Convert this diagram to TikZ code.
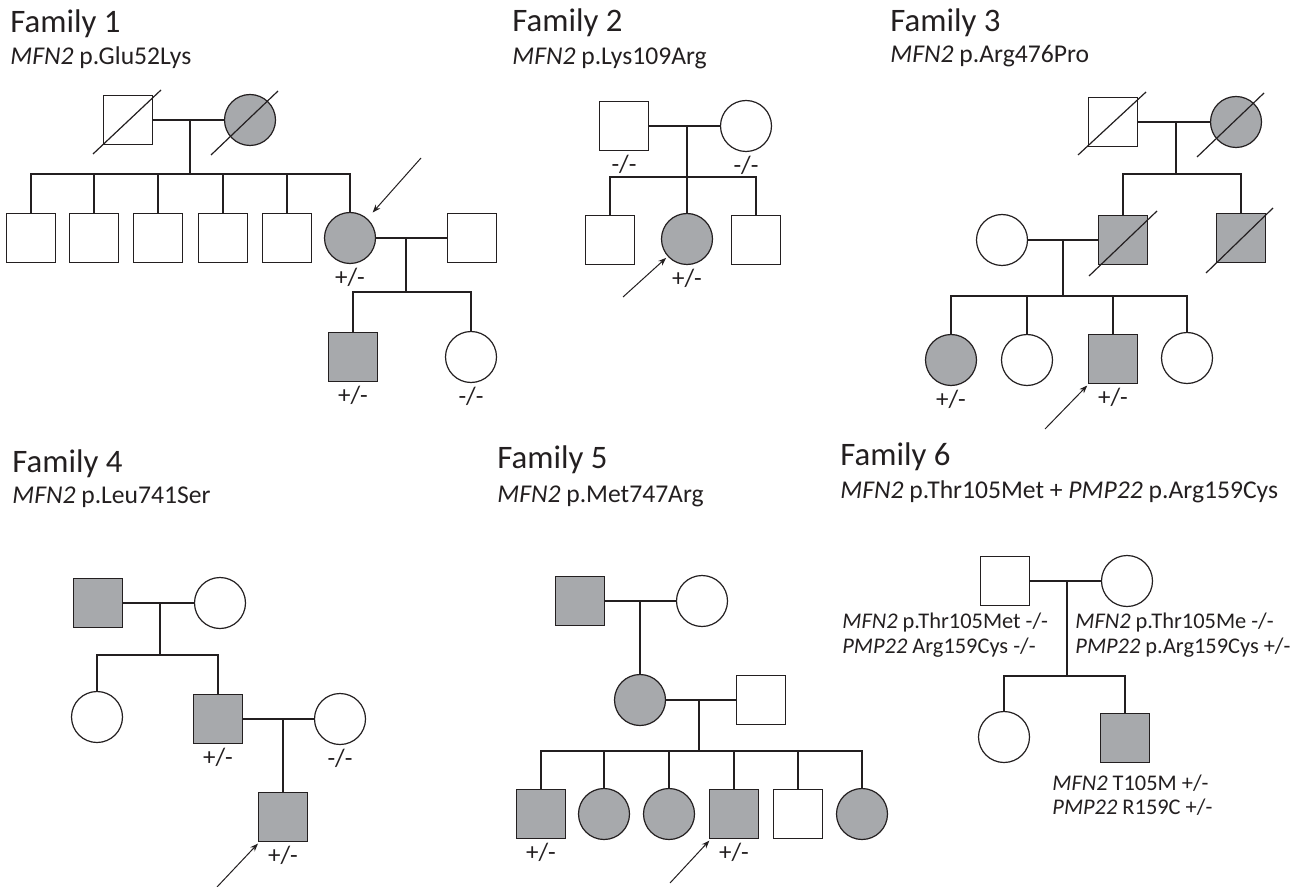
\documentclass[tikz,border=0pt]{standalone}
\usepackage{fontspec}
\setmainfont{Carlito}
\usetikzlibrary{arrows.meta,positioning}
\definecolor{ink}{HTML}{231F20}
\definecolor{shade}{HTML}{A7A9AC}
\tikzset{
  male/.style={
    rectangle, draw=ink, fill=white, line width=0.6pt,
    minimum size=24.5pt, inner sep=0pt
  },
  female/.style={
    circle, draw=ink, fill=white, line width=0.6pt,
    minimum size=25.5pt, inner sep=0pt
  },
  aff/.style={fill=shade},
  kin/.style={draw=ink, line width=0.6pt},
  dead/.style={draw=ink, line width=0.6pt},
  proband/.style={-{Stealth[length=4pt,width=3pt]}, draw=ink, line width=0.5pt},
  geno/.style={font=\fontsize{12.5}{14}\selectfont, text=ink, inner sep=0pt},
  famtitle/.style={font=\fontsize{16.4}{19}\selectfont, text=ink, anchor=base west, inner sep=0pt},
  variant/.style={font=\fontsize{12.8}{15}\selectfont, text=ink, anchor=base west, inner sep=0pt},
  note/.style={font=\fontsize{11.2}{13}\selectfont, text=ink, anchor=base west, inner sep=0pt}
}

\begin{document}
\begin{tikzpicture}[x=0.5pt, y=-0.5pt]
  \useasboundingbox (0,0) rectangle (1299,887);

  % Family 1
  \node[famtitle] (t1) at (10,33) {Family 1};
  \node[variant] (v1) at (10,65) {\textit{MFN2} p.Glu52Lys};
  \node[male] (f1a) at (128,120) {};
  \node[female, aff] (f1b) at (250,120) {};
  \draw[dead] ([shift={(-35,34)}]f1a.center) -- ([shift={(33,-30)}]f1a.center);
  \draw[dead] ([shift={(-39,35)}]f1b.center) -- ([shift={(28,-29)}]f1b.center);
  \draw[kin] (f1a) -- (f1b);
  \coordinate (m1) at (190,120);
  \coordinate (j1) at (190,174);
  \draw[kin] (m1) -- (j1);
  \node[male] (f1c1) at (31,238) {};
  \node[male] (f1c2) at (94,238) {};
  \node[male] (f1c3) at (158,238) {};
  \node[male] (f1c4) at (223,238) {};
  \node[male] (f1c5) at (287,238) {};
  \node[female, aff] (f1c6) at (350,238) {};
  \foreach \c in {f1c1,f1c2,f1c3,f1c4,f1c5,f1c6}
    \draw[kin] (\c.north) |- (j1);
  \node[geno, below=2pt of f1c6] (g1a) {+/-};
  \node[male] (f1d) at (472,238) {};
  \draw[kin] (f1c6) -- (f1d);
  \coordinate (m1b) at (406,238);
  \coordinate (j1b) at (406,292);
  \draw[kin] (m1b) -- (j1b);
  \node[male, aff] (f1e1) at (353,357) {};
  \node[female] (f1e2) at (471,357) {};
  \draw[kin] (f1e1.north) |- (j1b);
  \draw[kin] (f1e2.north) |- (j1b);
  \node[geno, below=2pt of f1e1] (g1b) {+/-};
  \node[geno, below=2pt of f1e2] (g1c) {-/-};
  \coordinate (p1) at (421,158);
  \draw[proband, shorten >=4pt] (p1) -- (f1c6);

  % Family 2
  \node[famtitle] (t2) at (512,32) {Family 2};
  \node[variant] (v2) at (512,65) {\textit{MFN2} p.Lys109Arg};
  \node[male] (f2a) at (624,126) {};
  \node[female] (f2b) at (746,126) {};
  \draw[kin] (f2a) -- (f2b);
  \node[geno, below=2pt of f2a] (g2a) {-/-};
  \node[geno, below=2pt of f2b] (g2b) {-/-};
  \coordinate (m2) at (687,126);
  \coordinate (j2) at (687,177);
  \node[male] (f2c1) at (610,240) {};
  \node[female, aff] (f2c2) at (687,239) {};
  \node[male] (f2c3) at (756,240) {};
  \draw[kin] (m2) -- (f2c2);
  \draw[kin] (f2c1.north) |- (j2);
  \draw[kin] (f2c3.north) |- (j2);
  \node[geno, below=2pt of f2c2] (g2c) {+/-};
  \coordinate (p2) at (623,297);
  \draw[proband, shorten >=1pt] (p2) -- (f2c2);

  % Family 3
  \node[famtitle] (t3) at (890,32) {Family 3};
  \node[variant] (v3) at (890,63) {\textit{MFN2} p.Arg476Pro};
  \node[male] (f3a) at (1113,122) {};
  \node[female, aff] (f3b) at (1236,122) {};
  \draw[dead] ([shift={(-35,33)}]f3a.center) -- ([shift={(33,-30)}]f3a.center);
  \draw[dead] ([shift={(-39,35)}]f3b.center) -- ([shift={(28,-29)}]f3b.center);
  \draw[kin] (f3a) -- (f3b);
  \coordinate (m3) at (1176,122);
  \coordinate (j3) at (1176,174);
  \draw[kin] (m3) -- (j3);
  \node[male, aff] (f3c1) at (1123,240) {};
  \node[male, aff] (f3c2) at (1241,238) {};
  \draw[dead] ([shift={(-34,36)}]f3c1.center) -- ([shift={(34,-29)}]f3c1.center);
  \draw[dead] ([shift={(-35,35)}]f3c2.center) -- ([shift={(32,-30)}]f3c2.center);
  \draw[kin] (f3c1.north) |- (j3);
  \draw[kin] (f3c2.north) |- (j3);
  \node[female] (f3w) at (1002,240) {};
  \draw[kin] (f3w) -- (f3c1);
  \coordinate (m3b) at (1063,240);
  \coordinate (j3b) at (1063,296);
  \draw[kin] (m3b) -- (j3b);
  \node[female, aff] (f3d1) at (951,360) {};
  \node[female] (f3d2) at (1027,360) {};
  \node[male, aff] (f3d3) at (1113,359) {};
  \node[female] (f3d4) at (1187,358) {};
  \foreach \c in {f3d1,f3d2,f3d3,f3d4}
    \draw[kin] (\c.north) |- (j3b);
  \node[geno, below=2pt of f3d1] (g3a) {+/-};
  \node[geno, below=2pt of f3d3] (g3b) {+/-};
  \coordinate (p3) at (1045,429);
  \draw[proband, shorten >=1pt] (p3) -- (f3d3);

  % Family 4
  \node[famtitle] (t4) at (12,472) {Family 4};
  \node[variant] (v4) at (12,503) {\textit{MFN2} p.Leu741Ser};
  \node[male, aff] (f4a) at (98,603) {};
  \node[female] (f4b) at (220,603) {};
  \draw[kin] (f4a) -- (f4b);
  \coordinate (m4) at (160,603);
  \coordinate (j4) at (160,655);
  \draw[kin] (m4) -- (j4);
  \node[female] (f4c1) at (97,717) {};
  \node[male, aff] (f4c2) at (218,719) {};
  \draw[kin] (f4c1.north) |- (j4);
  \draw[kin] (f4c2.north) |- (j4);
  \node[geno, below=2pt of f4c2] (g4a) {+/-};
  \node[female] (f4w) at (340,719) {};
  \draw[kin] (f4c2) -- (f4w);
  \node[geno, below=2pt of f4w] (g4b) {-/-};
  \coordinate (m4b) at (283,719);
  \node[male, aff] (f4d) at (283,817) {};
  \draw[kin] (m4b) -- (f4d);
  \node[geno, below=2pt of f4d] (g4c) {+/-};
  \coordinate (p4) at (217,887);
  \draw[proband, shorten >=1pt] (p4) -- (f4d);

  % Family 5
  \node[famtitle] (t5) at (497,468) {Family 5};
  \node[variant] (v5) at (497,502) {\textit{MFN2} p.Met747Arg};
  \node[male, aff] (f5a) at (580,601) {};
  \node[female] (f5b) at (702,601) {};
  \draw[kin] (f5a) -- (f5b);
  \coordinate (m5) at (640,601);
  \node[female, aff] (f5c) at (640,700) {};
  \draw[kin] (m5) -- (f5c);
  \node[male] (f5h) at (761,700) {};
  \draw[kin] (f5c) -- (f5h);
  \coordinate (m5b) at (699,700);
  \coordinate (j5) at (699,751);
  \draw[kin] (m5b) -- (j5);
  \node[male, aff] (f5d1) at (541,814) {};
  \node[female, aff] (f5d2) at (604,814) {};
  \node[female, aff] (f5d3) at (669,814) {};
  \node[male, aff] (f5d4) at (734,814) {};
  \node[male] (f5d5) at (798,814) {};
  \node[female, aff] (f5d6) at (862,814) {};
  \foreach \c in {f5d1,f5d2,f5d3,f5d4,f5d5,f5d6}
    \draw[kin] (\c.north) |- (j5);
  \node[geno, below=2pt of f5d1] (g5a) {+/-};
  \node[geno, below=2pt of f5d4] (g5b) {+/-};
  \coordinate (p5) at (670,883);
  \draw[proband, shorten >=1pt] (p5) -- (f5d4);

  % Family 6
  \node[famtitle] (t6) at (840,465) {Family 6};
  \node[variant] (v6) at (840,498) {\textit{MFN2} p.Thr105Met + \textit{PMP22} p.Arg159Cys};
  \node[male] (f6a) at (1005,581) {};
  \node[female] (f6b) at (1127,581) {};
  \draw[kin] (f6a) -- (f6b);
  \coordinate (m6) at (1067,581);
  \coordinate (j6) at (1067,676);
  \draw[kin] (m6) -- (j6);
  \node[female] (f6c1) at (1004,737) {};
  \node[male, aff] (f6c2) at (1125,738) {};
  \draw[kin] (f6c1.north) |- (j6);
  \draw[kin] (f6c2.north) |- (j6);
  \node[note] (n6a) at (842,628) {\textit{MFN2} p.Thr105Met -/-};
  \node[note] (n6b) at (842,653) {\textit{PMP22} Arg159Cys -/-};
  \node[note] (n6c) at (1075,628) {\textit{MFN2} p.Thr105Me -/-};
  \node[note] (n6d) at (1075,653) {\textit{PMP22} p.Arg159Cys +/-};
  \node[note] (n6e) at (1052,790) {\textit{MFN2} T105M +/-};
  \node[note] (n6f) at (1052,814) {\textit{PMP22} R159C +/-};
\end{tikzpicture}
\end{document}
